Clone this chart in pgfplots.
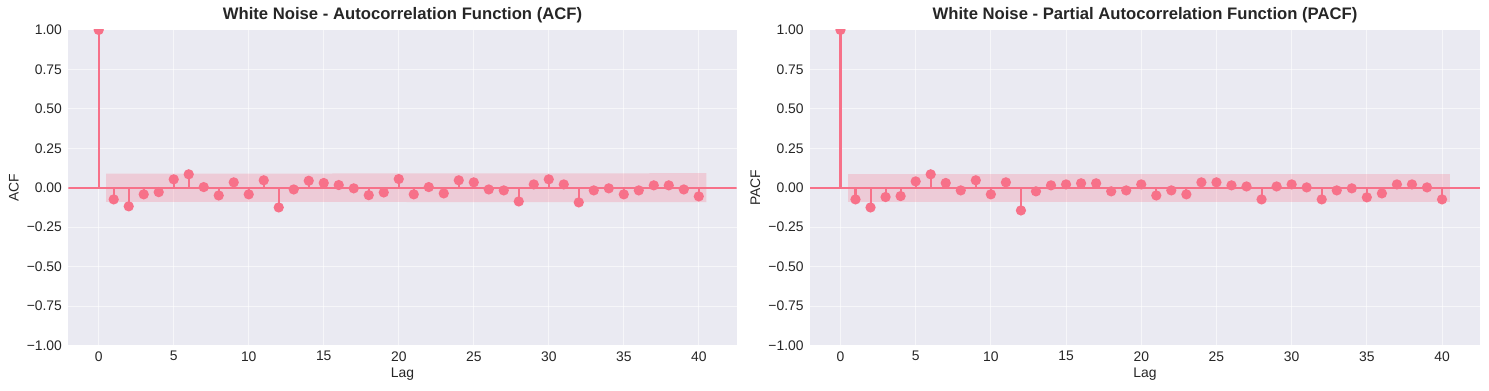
\documentclass[border=0pt]{standalone}
\usepackage{pgfplots}
\pgfplotsset{compat=1.18}
\usepackage{fontspec}
\setmainfont{Liberation Sans}
\definecolor{acfc}{HTML}{F77189}
\definecolor{bgc}{HTML}{EAEAF2}
\definecolor{txt}{HTML}{262626}

\pgfplotsset{
  myax/.style={
    scale only axis,
    anchor=south west,
    height=227.2pt,
    xmin=-2.025, xmax=42.525,
    ymin=-1, ymax=1,
    clip marker paths=true,
    axis background/.style={fill=bgc},
    axis line style={draw=none},
    tick style={draw=none},
    grid=major,
    major grid style={draw=white, line width=0.7pt, opacity=0.6},
    xtick={0,5,...,40},
    ytick={-1,-0.75,-0.5,-0.25,0,0.25,0.5,0.75,1},
    yticklabels={−1.00,−0.75,−0.50,−0.25,0.00,0.25,0.50,0.75,1.00},
    /pgf/number format/assume math mode=true,
    tick label style={font=\fontsize{10}{12}\selectfont, text=txt, inner sep=0pt},
    xticklabel style={anchor=north, yshift=-4pt},
    yticklabel style={anchor=east, xshift=-4.4pt},
    label style={font=\fontsize{10}{12}\selectfont, text=txt, inner sep=0pt},
    title style={font=\fontsize{12}{14}\selectfont\bfseries, text=txt, inner sep=0pt, at={(axis description cs:0.5,1)}, anchor=base, yshift=1.2pt},
    xlabel style={at={(axis description cs:0.5,-0.0713)}, anchor=north},
    ylabel style={at={(axis description cs:-0.0738,0.5)}, anchor=south, rotate=0},
  },
  stem/.style={ycomb, draw=acfc, line width=1.5pt, mark=*, mark size=2.9pt, mark options={draw=none, fill=acfc}},
}

\pgfplotstableread{
lag val
0 1
1 -0.074
2 -0.118
3 -0.042
4 -0.028
5 0.053
6 0.085
7 0.004
8 -0.049
9 0.034
10 -0.042
11 0.047
12 -0.125
13 -0.011
14 0.044
15 0.030
16 0.017
17 -0.004
18 -0.047
19 -0.030
20 0.055
21 -0.042
22 0.004
23 -0.036
24 0.047
25 0.034
26 -0.011
27 -0.017
28 -0.087
29 0.021
30 0.053
31 0.021
32 -0.093
33 -0.017
34 -0.004
35 -0.042
36 -0.017
37 0.015
38 0.015
39 -0.011
40 -0.055
}\acftable

\pgfplotstableread{
lag val
0 1
1 -0.074
2 -0.125
3 -0.059
4 -0.053
5 0.040
6 0.085
7 0.030
8 -0.017
9 0.047
10 -0.042
11 0.034
12 -0.144
13 -0.023
14 0.015
15 0.021
16 0.028
17 0.028
18 -0.023
19 -0.017
20 0.021
21 -0.049
22 -0.017
23 -0.042
24 0.034
25 0.034
26 0.015
27 0.008
28 -0.074
29 0.008
30 0.021
31 0.002
32 -0.074
33 -0.017
34 -0.004
35 -0.061
36 -0.036
37 0.021
38 0.021
39 0.002
40 -0.074
}\pacftable

\begin{document}
\begin{tikzpicture}
\path[use as bounding box] (0,0) rectangle (1072.08pt,280.8pt);

\begin{axis}[myax, at={(49.2pt,32.04pt)}, width=481.2pt,
  title={White Noise - Autocorrelation Function (ACF)},
  xlabel={Lag}, ylabel={ACF}]
  \addplot[fill=acfc, fill opacity=0.25, draw=none] coordinates {(0.5,-0.089) (40.5,-0.092) (40.5,0.092) (0.5,0.089)} -- cycle;
  \addplot[draw=acfc, line width=1.4pt] coordinates {(-2.025,0) (42.525,0)};
  \addplot[stem] table[x=lag, y=val] {\acftable};
\end{axis}

\begin{axis}[myax, at={(583.2pt,32.04pt)}, width=482.4pt,
  title={White Noise - Partial Autocorrelation Function (PACF)},
  xlabel={Lag}, ylabel={PACF}]
  \addplot[fill=acfc, fill opacity=0.25, draw=none] coordinates {(0.5,-0.089) (40.5,-0.089) (40.5,0.089) (0.5,0.089)} -- cycle;
  \addplot[draw=acfc, line width=1.4pt] coordinates {(-2.025,0) (42.525,0)};
  \addplot[stem] table[x=lag, y=val] {\pacftable};
\end{axis}
\end{tikzpicture}
\end{document}
